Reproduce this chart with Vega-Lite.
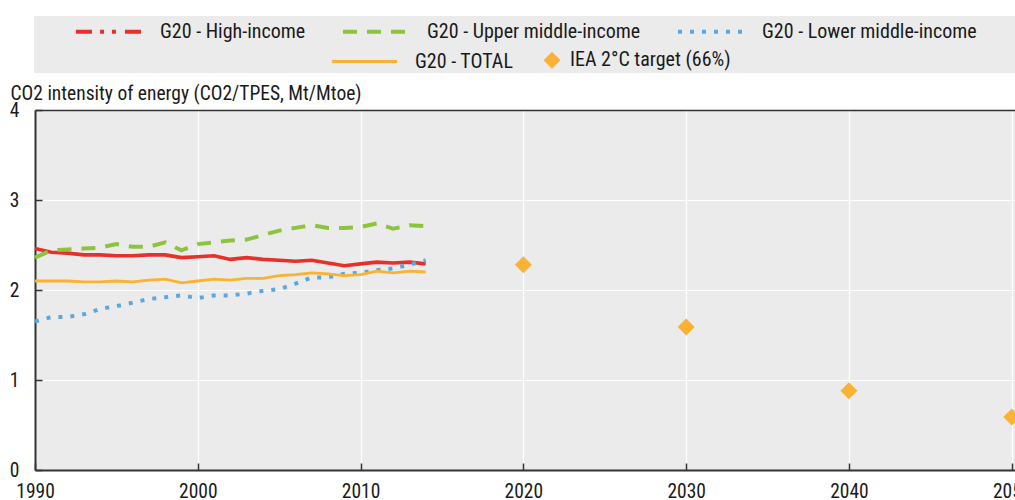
{
  "$schema": "https://vega.github.io/schema/vega-lite/v6.json",
  "autosize": {"type": "none"},
  "padding": {"left": 35, "top": 110, "right": 0, "bottom": 30},
  "width": 980,
  "height": 360,
  "background": "white",
  "datasets": {
    "hist": [
      {"year":1990,"series":"G20 - High-income","value":2.46},{"year":1991,"series":"G20 - High-income","value":2.42},{"year":1992,"series":"G20 - High-income","value":2.41},{"year":1993,"series":"G20 - High-income","value":2.39},{"year":1994,"series":"G20 - High-income","value":2.39},{"year":1995,"series":"G20 - High-income","value":2.38},{"year":1996,"series":"G20 - High-income","value":2.38},{"year":1997,"series":"G20 - High-income","value":2.39},{"year":1998,"series":"G20 - High-income","value":2.39},{"year":1999,"series":"G20 - High-income","value":2.36},{"year":2000,"series":"G20 - High-income","value":2.37},{"year":2001,"series":"G20 - High-income","value":2.38},{"year":2002,"series":"G20 - High-income","value":2.34},{"year":2003,"series":"G20 - High-income","value":2.36},{"year":2004,"series":"G20 - High-income","value":2.34},{"year":2005,"series":"G20 - High-income","value":2.33},{"year":2006,"series":"G20 - High-income","value":2.32},{"year":2007,"series":"G20 - High-income","value":2.33},{"year":2008,"series":"G20 - High-income","value":2.30},{"year":2009,"series":"G20 - High-income","value":2.27},{"year":2010,"series":"G20 - High-income","value":2.29},{"year":2011,"series":"G20 - High-income","value":2.31},{"year":2012,"series":"G20 - High-income","value":2.30},{"year":2013,"series":"G20 - High-income","value":2.31},{"year":2014,"series":"G20 - High-income","value":2.29},
      {"year":1990,"series":"G20 - Upper middle-income","value":2.36},{"year":1991,"series":"G20 - Upper middle-income","value":2.44},{"year":1992,"series":"G20 - Upper middle-income","value":2.45},{"year":1993,"series":"G20 - Upper middle-income","value":2.46},{"year":1994,"series":"G20 - Upper middle-income","value":2.47},{"year":1995,"series":"G20 - Upper middle-income","value":2.51},{"year":1996,"series":"G20 - Upper middle-income","value":2.48},{"year":1997,"series":"G20 - Upper middle-income","value":2.48},{"year":1998,"series":"G20 - Upper middle-income","value":2.53},{"year":1999,"series":"G20 - Upper middle-income","value":2.44},{"year":2000,"series":"G20 - Upper middle-income","value":2.51},{"year":2001,"series":"G20 - Upper middle-income","value":2.53},{"year":2002,"series":"G20 - Upper middle-income","value":2.55},{"year":2003,"series":"G20 - Upper middle-income","value":2.56},{"year":2004,"series":"G20 - Upper middle-income","value":2.61},{"year":2005,"series":"G20 - Upper middle-income","value":2.66},{"year":2006,"series":"G20 - Upper middle-income","value":2.69},{"year":2007,"series":"G20 - Upper middle-income","value":2.72},{"year":2008,"series":"G20 - Upper middle-income","value":2.69},{"year":2009,"series":"G20 - Upper middle-income","value":2.69},{"year":2010,"series":"G20 - Upper middle-income","value":2.70},{"year":2011,"series":"G20 - Upper middle-income","value":2.74},{"year":2012,"series":"G20 - Upper middle-income","value":2.68},{"year":2013,"series":"G20 - Upper middle-income","value":2.72},{"year":2014,"series":"G20 - Upper middle-income","value":2.71},
      {"year":1990,"series":"G20 - Lower middle-income","value":1.65},{"year":1991,"series":"G20 - Lower middle-income","value":1.70},{"year":1992,"series":"G20 - Lower middle-income","value":1.70},{"year":1993,"series":"G20 - Lower middle-income","value":1.73},{"year":1994,"series":"G20 - Lower middle-income","value":1.79},{"year":1995,"series":"G20 - Lower middle-income","value":1.82},{"year":1996,"series":"G20 - Lower middle-income","value":1.86},{"year":1997,"series":"G20 - Lower middle-income","value":1.90},{"year":1998,"series":"G20 - Lower middle-income","value":1.92},{"year":1999,"series":"G20 - Lower middle-income","value":1.94},{"year":2000,"series":"G20 - Lower middle-income","value":1.91},{"year":2001,"series":"G20 - Lower middle-income","value":1.94},{"year":2002,"series":"G20 - Lower middle-income","value":1.94},{"year":2003,"series":"G20 - Lower middle-income","value":1.96},{"year":2004,"series":"G20 - Lower middle-income","value":1.99},{"year":2005,"series":"G20 - Lower middle-income","value":2.01},{"year":2006,"series":"G20 - Lower middle-income","value":2.07},{"year":2007,"series":"G20 - Lower middle-income","value":2.14},{"year":2008,"series":"G20 - Lower middle-income","value":2.14},{"year":2009,"series":"G20 - Lower middle-income","value":2.18},{"year":2010,"series":"G20 - Lower middle-income","value":2.19},{"year":2011,"series":"G20 - Lower middle-income","value":2.22},{"year":2012,"series":"G20 - Lower middle-income","value":2.24},{"year":2013,"series":"G20 - Lower middle-income","value":2.28},{"year":2014,"series":"G20 - Lower middle-income","value":2.33},
      {"year":1990,"series":"G20 - TOTAL","value":2.10},{"year":1991,"series":"G20 - TOTAL","value":2.10},{"year":1992,"series":"G20 - TOTAL","value":2.10},{"year":1993,"series":"G20 - TOTAL","value":2.09},{"year":1994,"series":"G20 - TOTAL","value":2.09},{"year":1995,"series":"G20 - TOTAL","value":2.10},{"year":1996,"series":"G20 - TOTAL","value":2.09},{"year":1997,"series":"G20 - TOTAL","value":2.11},{"year":1998,"series":"G20 - TOTAL","value":2.12},{"year":1999,"series":"G20 - TOTAL","value":2.08},{"year":2000,"series":"G20 - TOTAL","value":2.10},{"year":2001,"series":"G20 - TOTAL","value":2.12},{"year":2002,"series":"G20 - TOTAL","value":2.11},{"year":2003,"series":"G20 - TOTAL","value":2.13},{"year":2004,"series":"G20 - TOTAL","value":2.13},{"year":2005,"series":"G20 - TOTAL","value":2.16},{"year":2006,"series":"G20 - TOTAL","value":2.17},{"year":2007,"series":"G20 - TOTAL","value":2.19},{"year":2008,"series":"G20 - TOTAL","value":2.18},{"year":2009,"series":"G20 - TOTAL","value":2.16},{"year":2010,"series":"G20 - TOTAL","value":2.17},{"year":2011,"series":"G20 - TOTAL","value":2.21},{"year":2012,"series":"G20 - TOTAL","value":2.19},{"year":2013,"series":"G20 - TOTAL","value":2.21},{"year":2014,"series":"G20 - TOTAL","value":2.20}
    ],
    "iea": [
      {"year":2020,"series":"IEA 2°C target (66%)","value":2.28},
      {"year":2030,"series":"IEA 2°C target (66%)","value":1.59},
      {"year":2040,"series":"IEA 2°C target (66%)","value":0.88},
      {"year":2050,"series":"IEA 2°C target (66%)","value":0.59}
    ]
  },
  "resolve": {"axis": {"x": "independent"}},
  "layer": [
    {
      "data": {"name": "hist"},
      "transform": [{"filter": {"field": "series", "equal": "G20 - High-income"}}],
      "mark": {"type": "line", "strokeWidth": 3.6, "strokeCap": "butt"},
      "encoding": {
        "x": {"field": "year", "type": "quantitative",
          "scale": {"domain": [1990, 2050.2], "nice": false, "zero": false},
          "axis": {"orient": "bottom", "values": [1990, 2000, 2010, 2020, 2030, 2040, 2050], "format": "d", "title": null,
            "grid": true, "gridColor": "white", "gridWidth": 1.2,
            "domainColor": "#333333", "domainWidth": 2, "tickColor": "#333333", "tickWidth": 1.5, "tickSize": -7,
            "labelPadding": 19, "labelFontSize": 19.5, "labelColor": "#1a1a1a", "labelFlush": false, "labelOverlap": false}},
        "y": {"field": "value", "type": "quantitative",
          "scale": {"domain": [0, 4], "nice": false},
          "axis": {"values": [0, 1, 2, 3, 4], "format": "d", "title": "CO2 intensity of energy (CO2/TPES, Mt/Mtoe)",
            "titleAngle": 0, "titleAlign": "left", "titleBaseline": "alphabetic", "titleX": -25, "titleY": -11,
            "titleFontSize": 19.5, "titleFontWeight": "normal", "titleColor": "#1a1a1a",
            "grid": true, "gridColor": "white", "gridWidth": 1.2,
            "domainColor": "#333333", "domainWidth": 2, "tickColor": "#333333", "tickWidth": 1.5, "tickSize": -7,
            "labelPadding": 23, "labelFontSize": 19.5, "labelColor": "#1a1a1a"}},
        "color": {"field": "series", "type": "nominal",
          "scale": {"domain": ["G20 - High-income", "G20 - Upper middle-income", "G20 - Lower middle-income", "sp1"],
                    "range": ["#E8302A", "#8CC43F", "#5AA8E0", "transparent"]},
          "legend": {
            "orient": "none", "legendX": -1, "legendY": -94, "zindex": 0,
            "direction": "horizontal", "columnPadding": 0, "padding": 5,
            "fillColor": "#ebebeb", "strokeColor": "#ebebeb",
            "title": ".", "titleColor": "#ebebeb", "titleOrient": "bottom", "titlePadding": 5,
            "titleFontSize": 20, "titleFontWeight": "normal",
            "labelFontSize": 20, "labelColor": "#1a1a1a", "labelLimit": 500,
            "symbolType": "M-3.824,0H3.824", "symbolSize": 289, "symbolStrokeWidth": 4,
            "symbolOffset": 59, "labelOffset": 41,
            "labelExpr": "datum.value === 'sp1' ? '' : datum.label"
          }}
      }
    },
    {
      "data": {"name": "hist"},
      "transform": [{"filter": {"field": "series", "oneOf": ["G20 - Upper middle-income", "G20 - Lower middle-income"]}}],
      "mark": {"type": "line", "strokeWidth": 4, "strokeCap": "butt"},
      "encoding": {
        "x": {"field": "year", "type": "quantitative", "axis": null},
        "y": {"field": "value", "type": "quantitative"},
        "color": {"field": "series", "type": "nominal"},
        "strokeDash": {"field": "series", "type": "nominal",
          "scale": {"domain": ["G20 - High-income", "G20 - Upper middle-income", "G20 - Lower middle-income", "sp1"],
                    "range": [[16, 8, 4, 8, 4, 9], [14, 10], [4, 8], [1, 0]]}}
      }
    },
    {
      "data": {"name": "hist"},
      "transform": [{"filter": {"field": "series", "equal": "G20 - TOTAL"}}],
      "mark": {"type": "line", "strokeWidth": 2.8, "strokeCap": "butt"},
      "encoding": {
        "x": {"field": "year", "type": "quantitative", "axis": null},
        "y": {"field": "value", "type": "quantitative"},
        "stroke": {"field": "series", "type": "nominal",
          "scale": {"domain": ["G20 - TOTAL", "IEA 2°C target (66%)"], "range": ["#F9B233", "#F9B233"]},
          "legend": {
            "orient": "none", "legendX": 352, "legendY": -60, "zindex": 1,
            "direction": "horizontal", "columnPadding": 25, "padding": 0, "title": null,
            "labelFontSize": 20, "labelColor": "#1a1a1a", "labelLimit": 500,
            "symbolSize": 289, "symbolStrokeWidth": 3, "symbolFillColor": "#F9B233",
            "symbolOffset": 0, "labelOffset": 8
          }}
      }
    },
    {
      "data": {"name": "iea"},
      "mark": {"type": "point", "filled": true, "fill": "#F9B233", "size": 513, "opacity": 1, "strokeWidth": 0},
      "encoding": {
        "x": {"field": "year", "type": "quantitative",
          "axis": {"orient": "top", "labels": false, "ticks": false, "grid": false, "domain": true, "domainColor": "#333333", "domainWidth": 1.5, "title": null}},
        "y": {"field": "value", "type": "quantitative"},
        "stroke": {"field": "series", "type": "nominal"},
        "shape": {"field": "series", "type": "nominal",
          "scale": {"domain": ["G20 - TOTAL", "IEA 2°C target (66%)"],
                    "range": ["M-7.648,0H0", "M-0.75,0L0,-0.75L0.75,0L0,0.75Z"]}}
      }
    }
  ],
  "config": {
    "font": "Liberation Sans Narrow, Arial Narrow, Roboto Condensed, sans-serif",
    "view": {"fill": "#ebebeb", "stroke": null}
  }
}
